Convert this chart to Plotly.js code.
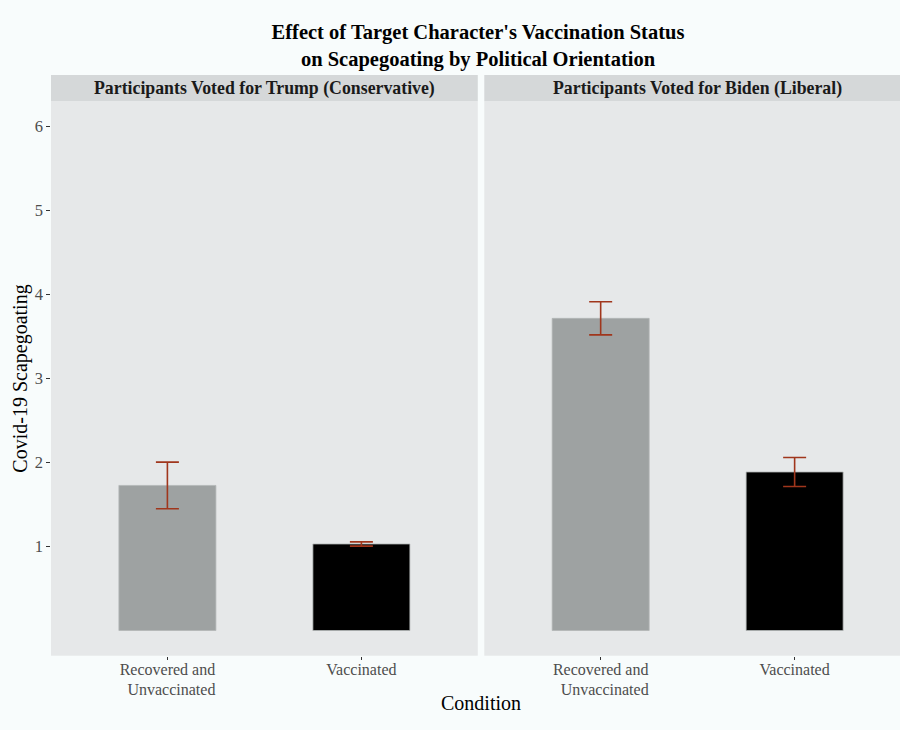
<!DOCTYPE html>
<html>
<head>
<meta charset="utf-8">
<script src="https://cdn.plot.ly/plotly-3.0.1.min.js"></script>
<style>
html, body { margin: 0; padding: 0; overflow: hidden; background: #f8fcfc; }
#chart { width: 912px; height: 730px; }
</style>
</head>
<body>
<div id="chart"></div>
<script>
// ---- data ----
const categories = ['Recovered and<br>\u00a0\u00a0Unvaccinated', 'Vaccinated'];
const panelLabels = ['Participants Voted for Trump (Conservative)', 'Participants Voted for Biden (Liberal)'];
const trumpMeans = [1.727, 1.03];
const trumpSE = [0.278, 0.025];
const bidenMeans = [3.716, 1.887];
const bidenSE = [0.197, 0.173];
const barColors = ['#9ea2a2', '#000000'];
const yTicks = [1, 2, 3, 4, 5, 6];

const W = 912, H = 730;
const serif = 'Liberation Serif, Times New Roman, serif';
const panelBg = '#e6e8e9';
const stripBg = '#d5d8d9';
const errColor = '#a0361c';

function barTrace(means, se, xa, ya) {
  return {
    type: 'bar',
    x: categories,
    y: means,
    xaxis: xa, yaxis: ya,
    width: 0.5,
    marker: { color: barColors, line: { color: '#b3b6b6', width: 0.8 } },
    error_y: { type: 'data', array: se, visible: true, color: errColor, thickness: 1.6, width: 11.5 },
    showlegend: false,
    hoverinfo: 'x+y'
  };
}

const data = [
  barTrace(trumpMeans, trumpSE, 'x', 'y'),
  barTrace(bidenMeans, bidenSE, 'x2', 'y2')
];

const xd1 = [51 / W, 477.8 / W];
const xd2 = [484.3 / W, 911 / W];
const yd = [(H - 655.7) / H, (H - 101.3) / H];
const stripTop = (H - 75) / H;

const xaxisBase = {
  type: 'category',
  range: [-0.6, 1.6],
  showgrid: false, zeroline: false, showline: false,
  ticks: 'outside', ticklen: 3.7, tickwidth: 1, tickcolor: '#333333',
  ticklabelstandoff: -5,
  tickfont: { family: serif, size: 16, color: '#4d4d4d' },
  fixedrange: true
};
const yaxisBase = {
  range: [-0.3, 6.3],
  domain: yd,
  tickvals: yTicks,
  showgrid: false, zeroline: false, showline: false,
  ticks: 'outside', ticklen: 3.7, tickwidth: 1, tickcolor: '#333333',
  tickfont: { family: serif, size: 16.5, color: '#4d4d4d' },
  fixedrange: true
};

const layout = {
  width: W, height: H,
  margin: { l: 0, r: 0, t: 0, b: 0 },
  paper_bgcolor: '#f8fcfc',
  plot_bgcolor: panelBg,
  font: { family: serif },
  title: {
    text: "<b>Effect of Target Character's Vaccination Status<br>on Scapegoating by Political Orientation</b>",
    font: { family: serif, size: 20.5, color: '#000000' },
    x: 478 / W, xanchor: 'center', xref: 'paper',
    y: (H - 39) / H, yanchor: 'middle', yref: 'paper'
  },
  xaxis: Object.assign({}, xaxisBase, { domain: xd1, anchor: 'y' }),
  xaxis2: Object.assign({}, xaxisBase, { domain: xd2, anchor: 'y2' }),
  yaxis: Object.assign({}, yaxisBase, {
    anchor: 'x',
    title: { text: 'Covid-19 Scapegoating', font: { family: serif, size: 20, color: '#000000' }, standoff: 1 }
  }),
  yaxis2: Object.assign({}, yaxisBase, { anchor: 'x2', showticklabels: false, ticks: '' }),
  shapes: [
    { type: 'rect', xref: 'paper', yref: 'paper', x0: xd1[0], x1: xd1[1], y0: yd[1], y1: stripTop, fillcolor: stripBg, line: { width: 0 }, layer: 'below' },
    { type: 'rect', xref: 'paper', yref: 'paper', x0: xd2[0], x1: xd2[1], y0: yd[1], y1: stripTop, fillcolor: stripBg, line: { width: 0 }, layer: 'below' }
  ],
  annotations: [
    { text: '<b>' + panelLabels[0] + '</b>', xref: 'paper', yref: 'paper', x: (xd1[0] + xd1[1]) / 2, y: (yd[1] + stripTop) / 2, xanchor: 'center', yanchor: 'middle', showarrow: false, font: { family: serif, size: 17.8, color: '#1a1a1a' } },
    { text: '<b>' + panelLabels[1] + '</b>', xref: 'paper', yref: 'paper', x: (xd2[0] + xd2[1]) / 2, y: (yd[1] + stripTop) / 2, xanchor: 'center', yanchor: 'middle', showarrow: false, font: { family: serif, size: 17.8, color: '#1a1a1a' } },
    { text: 'Condition', xref: 'paper', yref: 'paper', x: 481 / W, y: (H - 703) / H, xanchor: 'center', yanchor: 'middle', showarrow: false, font: { family: serif, size: 20, color: '#000000' } }
  ]
};

Plotly.newPlot('chart', data, layout, { displayModeBar: false });
</script>
</body>
</html>
